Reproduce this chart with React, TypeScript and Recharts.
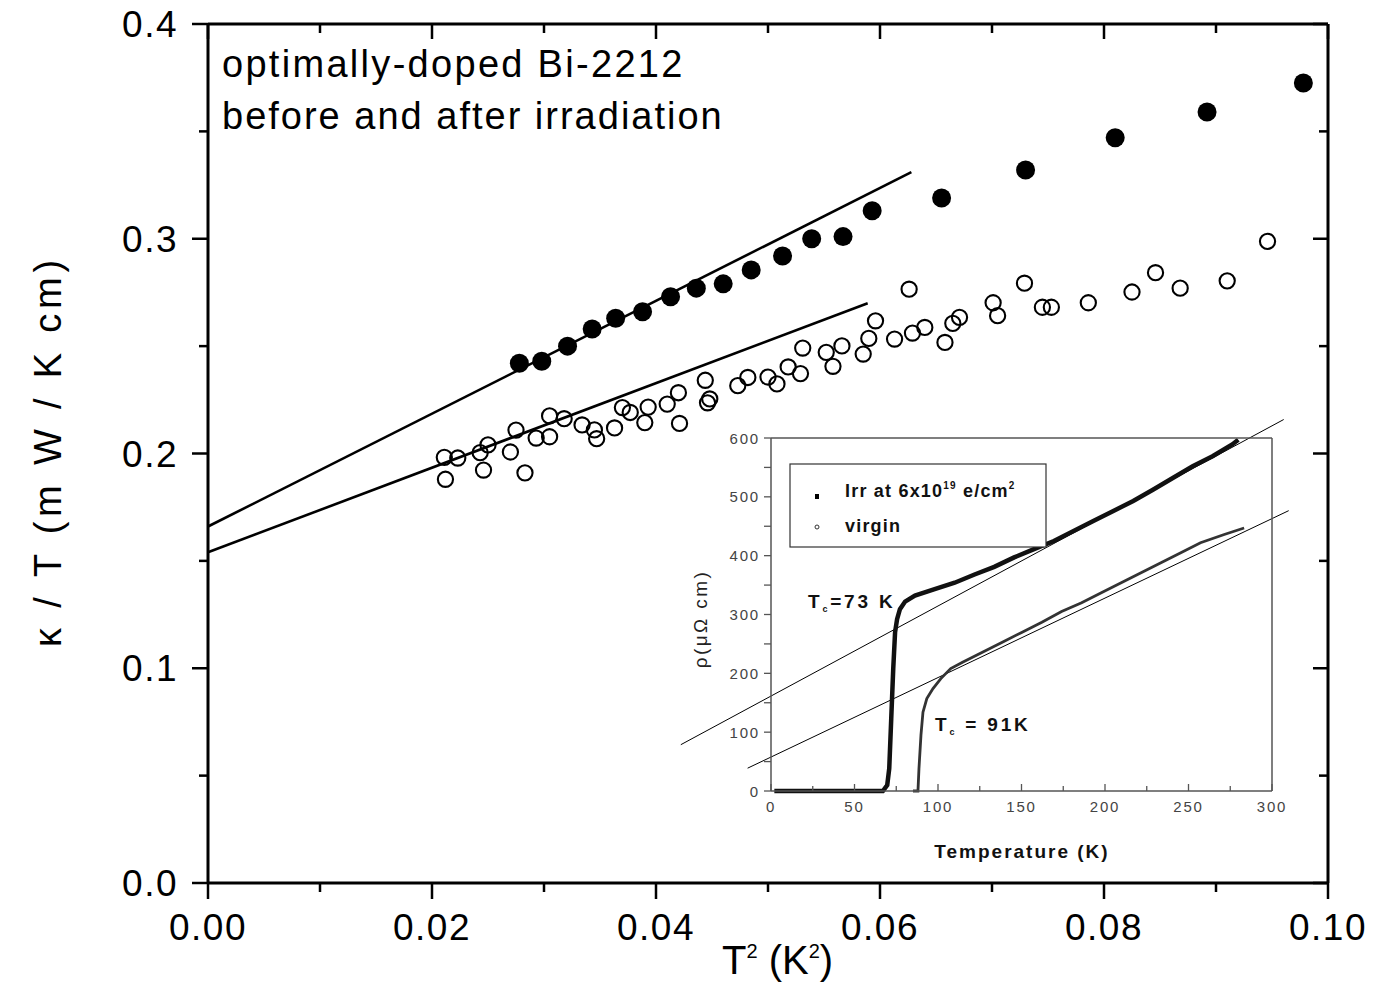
import React from 'react';
import { ComposedChart, LineChart, Scatter, Line, XAxis, YAxis, ReferenceLine } from 'recharts';

// ---------- main chart data: kappa/T vs T^2 ----------
const afterT2 = [0.0278, 0.0298, 0.0321, 0.0343, 0.0364, 0.0388, 0.0413, 0.0436, 0.046, 0.0485, 0.0513, 0.0539, 0.0567, 0.0593, 0.0655, 0.073, 0.081, 0.0892, 0.0978];
const afterKappa = [0.242, 0.243, 0.25, 0.258, 0.263, 0.266, 0.273, 0.277, 0.279, 0.2855, 0.292, 0.3, 0.301, 0.313, 0.319, 0.332, 0.347, 0.359, 0.3725];

const beforeT2 = [0.0211, 0.0223, 0.0212, 0.0243, 0.025, 0.0246, 0.027, 0.0275, 0.0283, 0.0293, 0.0305, 0.0305, 0.0318, 0.0334, 0.0345, 0.0347, 0.0363, 0.037, 0.0377, 0.0393, 0.039, 0.041, 0.042, 0.0421, 0.0444, 0.0446, 0.0448, 0.0473, 0.0482, 0.05, 0.0508, 0.0518, 0.0529, 0.0531, 0.0552, 0.0558, 0.0566, 0.0585, 0.059, 0.0596, 0.0613, 0.0626, 0.0629, 0.064, 0.0658, 0.0665, 0.0671, 0.0701, 0.0705, 0.0729, 0.0745, 0.0753, 0.0786, 0.0825, 0.0846, 0.0868, 0.091, 0.0946];
const beforeKappa = [0.1982, 0.1979, 0.188, 0.2004, 0.204, 0.1923, 0.2007, 0.2109, 0.191, 0.2072, 0.2078, 0.2175, 0.2162, 0.2133, 0.211, 0.2069, 0.2119, 0.2214, 0.2191, 0.2216, 0.2144, 0.223, 0.2283, 0.214, 0.2341, 0.2236, 0.2254, 0.2316, 0.2354, 0.2356, 0.2324, 0.2403, 0.2372, 0.2491, 0.2471, 0.2406, 0.2501, 0.2463, 0.2536, 0.2618, 0.2533, 0.2765, 0.2561, 0.2587, 0.2517, 0.2606, 0.2634, 0.2702, 0.2642, 0.2793, 0.2681, 0.2681, 0.2702, 0.2752, 0.2842, 0.277, 0.2804, 0.2988];

const afterFitT2 = [0, 0.0628];
const afterFitKappa = [0.166, 0.331];
const beforeFitT2 = [0, 0.0589];
const beforeFitKappa = [0.154, 0.27];

const mainXTicks = [0, 0.01, 0.02, 0.03, 0.04, 0.05, 0.06, 0.07, 0.08, 0.09, 0.1];
const mainYTicks = [0, 0.05, 0.1, 0.15, 0.2, 0.25, 0.3, 0.35, 0.4];

// ---------- inset data: resistivity vs temperature ----------
const irrTemp = [2, 20, 40, 60, 67, 69.6, 70.8, 72, 73.2, 74.3, 75.5, 77.2, 80.3, 86.2, 98, 110, 121.9, 133.7, 145.6, 157.5, 169.4, 181.2, 193, 205, 216.9, 228.7, 240.6, 252.5, 264.4, 276.2, 279.8];
const irrRho = [0, 0, 0, 0, 0, 10, 38, 123, 208, 270, 292, 309, 322, 332, 343, 354, 368, 381, 397, 411, 425, 442, 459, 476, 493, 512, 532, 552, 569, 589, 597];
const virTemp = [85, 88, 88.6, 89.8, 91, 93.3, 97, 101.7, 107.6, 114.7, 126.6, 138.5, 150.4, 162.2, 174, 186, 197.8, 209.7, 221.6, 233.5, 245.4, 257.2, 271.4, 283.3];
const virRho = [0, 0, 38, 95, 134, 157, 174, 191, 208, 219, 236, 253, 270, 287, 305, 320, 337, 354, 371, 388, 405, 422, 436, 447];

const irrFitTemp = [-54, 307];
const irrFitRho = [78.7, 631.4];
const virFitTemp = [-14, 310];
const virFitRho = [38.8, 476.5];

const insetXTicks = [0, 25, 50, 75, 100, 125, 150, 175, 200, 225, 250, 275, 300];
const insetYTicks = [0, 50, 100, 150, 200, 250, 300, 350, 400, 450, 500, 550, 600];

const zip = (xs: number[], ys: number[]) => xs.map((x, i) => ({ x, y: ys[i] }));

const FONT = '"Liberation Sans", Arial, Helvetica, sans-serif';

// ---------- tick renderers ----------
const MainBottomTick = (p: any) => {
  const major = p.index % 2 === 0;
  return (
    <g>
      <line x1={p.x} y1={p.y} x2={p.x} y2={p.y + (major ? 16 : 9)} stroke="#000" strokeWidth={2.5} />
      {major && (
        <text x={p.x} y={p.y + 57} textAnchor="middle" fontSize={37} fontFamily={FONT} fill="#000" style={{ letterSpacing: '1.5px' }}>
          {Number(p.payload.value).toFixed(2)}
        </text>
      )}
    </g>
  );
};
const MainTopTick = (p: any) => {
  const major = p.index % 2 === 0;
  return <line x1={p.x} y1={p.y} x2={p.x} y2={p.y + (major ? 15 : 9)} stroke="#000" strokeWidth={2.5} />;
};
const MainLeftTick = (p: any) => {
  const major = p.index % 2 === 0;
  return (
    <g>
      <line x1={p.x} y1={p.y} x2={p.x - (major ? 16 : 9)} y2={p.y} stroke="#000" strokeWidth={2.5} />
      {major && (
        <text x={p.x - 30} y={p.y + 13} textAnchor="end" fontSize={37} fontFamily={FONT} fill="#000" style={{ letterSpacing: '1.5px' }}>
          {Number(p.payload.value).toFixed(1)}
        </text>
      )}
    </g>
  );
};
const MainRightTick = (p: any) => {
  const major = p.index % 2 === 0;
  return <line x1={p.x} y1={p.y} x2={p.x - (major ? 15 : 9)} y2={p.y} stroke="#000" strokeWidth={2.5} />;
};

const InsetLeftTick = (p: any) => {
  const major = p.index % 2 === 0;
  return (
    <g>
      <line x1={p.x} y1={p.y} x2={p.x - 7} y2={p.y} stroke="#555" strokeWidth={1.3} />
      {major && (
        <text x={p.x - 11} y={p.y + 5.5} textAnchor="end" fontSize={15} fontFamily={FONT} fill="#444" style={{ letterSpacing: '1.8px' }}>
          {p.payload.value}
        </text>
      )}
    </g>
  );
};
const InsetBottomTick = (p: any) => {
  const major = p.index % 2 === 0;
  return (
    <g>
      <line x1={p.x} y1={p.y} x2={p.x} y2={p.y - (major ? 7 : 5)} stroke="#555" strokeWidth={1.3} />
      {major && (
        <text x={p.x} y={p.y + 21} textAnchor="middle" fontSize={15} fontFamily={FONT} fill="#444" style={{ letterSpacing: '1.8px' }}>
          {p.payload.value}
        </text>
      )}
    </g>
  );
};

const FilledDot = (p: any) => <circle cx={p.cx} cy={p.cy} r={9.5} fill="#000" />;
const OpenDot = (p: any) => <circle cx={p.cx} cy={p.cy} r={7.6} fill="none" stroke="#000" strokeWidth={2.1} />;

export default function App() {
  const afterData = zip(afterT2, afterKappa);
  const beforeData = zip(beforeT2, beforeKappa);
  const afterFit = zip(afterFitT2, afterFitKappa);
  const beforeFit = zip(beforeFitT2, beforeFitKappa);
  const irrData = zip(irrTemp, irrRho);
  const virData = zip(virTemp, virRho);
  const irrFit = zip(irrFitTemp, irrFitRho);
  const virFit = zip(virFitTemp, virFitRho);

  return (
    <div style={{ position: 'relative', width: 1358, height: 988, marginTop: -8, background: '#fff' }}>
      <ComposedChart width={1358} height={988} margin={{ top: 18, right: 28, bottom: 0, left: 0 }}>
        <XAxis xAxisId="b" type="number" dataKey="x" domain={[0, 0.1]} ticks={mainXTicks} interval={0}
          height={105} tickSize={0} tickMargin={0} tickLine={false} tick={MainBottomTick}
          axisLine={{ stroke: '#000', strokeWidth: 3 }} />
        <XAxis xAxisId="t" orientation="top" type="number" dataKey="x" domain={[0, 0.1]} allowDataOverflow ticks={mainXTicks} interval={0}
          height={6} tickSize={0} tickMargin={0} tickLine={false} tick={MainTopTick}
          axisLine={{ stroke: '#000', strokeWidth: 3 }} />
        <YAxis yAxisId="l" type="number" dataKey="y" domain={[0, 0.4]} ticks={mainYTicks} interval={0}
          width={200} tickSize={0} tickMargin={0} tickLine={false} tick={MainLeftTick}
          axisLine={{ stroke: '#000', strokeWidth: 3 }} />
        <YAxis yAxisId="r" orientation="right" type="number" dataKey="y" domain={[0, 0.4]} allowDataOverflow ticks={mainYTicks} interval={0}
          width={10} tickSize={0} tickMargin={0} tickLine={false} tick={MainRightTick}
          axisLine={{ stroke: '#000', strokeWidth: 3 }} />
        <Line xAxisId="b" yAxisId="l" data={afterFit} dataKey="y" stroke="#000" strokeWidth={2.6} dot={false} isAnimationActive={false} />
        <Line xAxisId="b" yAxisId="l" data={beforeFit} dataKey="y" stroke="#000" strokeWidth={2.6} dot={false} isAnimationActive={false} />
        <Scatter xAxisId="b" yAxisId="l" data={beforeData} dataKey="y" shape={OpenDot} isAnimationActive={false} />
        <Scatter xAxisId="b" yAxisId="l" data={afterData} dataKey="y" shape={FilledDot} isAnimationActive={false} />
      </ComposedChart>

      <div style={{ position: 'absolute', left: 652, top: 400 }}>
        <LineChart width={640} height={480} margin={{ top: 37, right: 27, bottom: 0, left: 0 }}>
          <XAxis type="number" dataKey="x" domain={[0, 300]} ticks={insetXTicks} interval={0}
            height={89} tickSize={0} tickMargin={0} tickLine={false} tick={InsetBottomTick}
            axisLine={{ stroke: '#555', strokeWidth: 1.5 }} />
          <XAxis xAxisId="t" orientation="top" type="number" domain={[0, 300]} allowDataOverflow
            height={1} tick={false} tickLine={false} axisLine={{ stroke: '#555', strokeWidth: 1.5 }} />
          <YAxis type="number" dataKey="y" domain={[0, 600]} ticks={insetYTicks} interval={0}
            width={111} tickSize={0} tickMargin={0} tickLine={false} tick={InsetLeftTick}
            axisLine={{ stroke: '#555', strokeWidth: 1.5 }} />
          <YAxis yAxisId="r" orientation="right" type="number" domain={[0, 600]} allowDataOverflow
            width={1} tick={false} tickLine={false} axisLine={{ stroke: '#555', strokeWidth: 1.5 }} />
          <ReferenceLine segment={irrFit} stroke="#000" strokeWidth={1} ifOverflow="visible" />
          <ReferenceLine segment={virFit} stroke="#000" strokeWidth={1} ifOverflow="visible" />
          <Line data={irrData} dataKey="y" stroke="#111" strokeWidth={4.5} dot={false} isAnimationActive={false} />
          <Line data={virData} dataKey="y" stroke="#333" strokeWidth={2.8} dot={false} isAnimationActive={false} />
        </LineChart>
      </div>

      <svg width={1358} height={988} style={{ position: 'absolute', left: 0, top: 0, pointerEvents: 'none' }} fontFamily={FONT}>
        {/* main annotations */}
        <text x={214} y={77} fontSize={38} fill="#000" style={{ letterSpacing: '2.3px' }}>optimally-doped Bi-2212</text>
        <text x={214} y={129} fontSize={38} fill="#000" style={{ letterSpacing: '2px' }}>before and after irradiation</text>
        <text transform="translate(53, 451) rotate(-90)" textAnchor="middle" fontSize={38} fill="#000" style={{ letterSpacing: '4.8px' }}>κ / T (m W / K cm)</text>
        <text x={714} y={974} fontSize={40} fill="#000">
          T<tspan dy={-16} fontSize={20}>2</tspan><tspan dy={16}> (K</tspan><tspan dy={-16} fontSize={20}>2</tspan><tspan dy={16}>)</tspan>
        </text>

        {/* inset titles */}
        <text transform="translate(699, 619) rotate(-90)" textAnchor="middle" fontSize={19} fill="#222" style={{ letterSpacing: '2.4px' }}>ρ(μΩ cm)</text>
        <text x={1014} y={858} textAnchor="middle" fontSize={19} fill="#111" fontWeight={600} style={{ letterSpacing: '2px' }}>Temperature (K)</text>

        {/* Tc labels */}
        <text x={800} y={608} fontSize={19} fill="#111" fontWeight={600} style={{ letterSpacing: '2.8px' }}>
          T<tspan dy={4} fontSize={9}>c</tspan><tspan dy={-4}>=73 K</tspan>
        </text>
        <text x={927} y={731} fontSize={19} fill="#111" fontWeight={600} style={{ letterSpacing: '2.8px' }}>
          T<tspan dy={4} fontSize={9}>c</tspan><tspan dy={-4}> = 91K</tspan>
        </text>

        {/* inset legend */}
        <rect x={782} y={464} width={256} height={83} fill="#fff" stroke="#333" strokeWidth={1.2} />
        <rect x={807} y={494} width={4} height={5} fill="#000" />
        <circle cx={809} cy={527} r={2} fill="none" stroke="#333" strokeWidth={1} />
        <text x={837} y={497} fontSize={18} fill="#111" fontWeight={600} style={{ letterSpacing: '1.2px' }}>
          Irr at 6x10<tspan dy={-8} fontSize={10}>19</tspan><tspan dy={8}> e/cm</tspan><tspan dy={-8} fontSize={10}>2</tspan>
        </text>
        <text x={837} y={532} fontSize={18} fill="#111" fontWeight={600} style={{ letterSpacing: '1.2px' }}>virgin</text>
      </svg>
    </div>
  );
}
